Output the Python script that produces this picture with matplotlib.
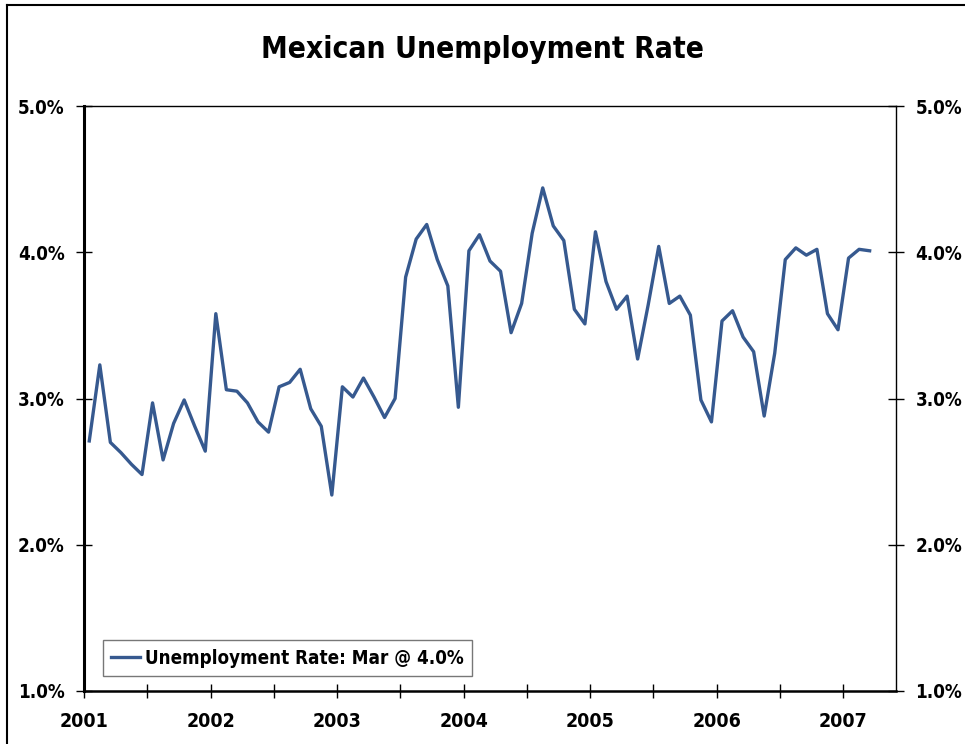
import numpy as np
import matplotlib
matplotlib.use("Agg")
import matplotlib.pyplot as plt
from matplotlib.lines import Line2D

plt.rcParams['font.family'] = ['DejaVu Sans']
plt.rcParams['font.stretch'] = 'condensed'
plt.rcParams['font.weight'] = 'bold'

# Monthly unemployment rate (%), Jan 2001 - Mar 2007
rate_2001 = [2.71, 3.23, 2.70, 2.63, 2.55, 2.48, 2.97, 2.58, 2.83, 2.99, 2.81, 2.64]
rate_2002 = [3.58, 3.06, 3.05, 2.97, 2.84, 2.77, 3.08, 3.11, 3.20, 2.93, 2.81, 2.34]
rate_2003 = [3.08, 3.01, 3.14, 3.01, 2.87, 3.00, 3.83, 4.09, 4.19, 3.95, 3.77, 2.94]
rate_2004 = [4.01, 4.12, 3.94, 3.87, 3.45, 3.65, 4.13, 4.44, 4.18, 4.08, 3.61, 3.51]
rate_2005 = [4.14, 3.80, 3.61, 3.70, 3.27, 3.64, 4.04, 3.65, 3.70, 3.57, 2.99, 2.84]
rate_2006 = [3.53, 3.60, 3.42, 3.32, 2.88, 3.31, 3.95, 4.03, 3.98, 4.02, 3.58, 3.47]
rate_2007 = [3.96, 4.02, 4.01]

years = ["2001", "2002", "2003", "2004", "2005", "2006", "2007"]
yticks = [1.0, 2.0, 3.0, 4.0, 5.0]
legend_label = "Unemployment Rate: Mar @ 4.0%"

rates = rate_2001 + rate_2002 + rate_2003 + rate_2004 + rate_2005 + rate_2006 + rate_2007
months = np.arange(len(rates)) + 0.5  # plot each month mid-period

fig = plt.figure(figsize=(9.65, 7.44), dpi=100)
ax = fig.add_axes([84 / 965, 1 - 691 / 744, (896 - 84) / 965, (691 - 106) / 744])

ax.plot(months, rates, color='#36598f', lw=2.4, label=legend_label)

ax.set_xlim(0, 77)
ax.set_ylim(1.0, 5.0)

ax.set_xticks(np.arange(0, 73, 12))
ax.set_xticklabels(years)
ax.set_xticks(np.arange(6, 73, 12), minor=True)
ax.set_yticks(yticks)
ax.set_yticklabels([f"{v:.1f}%" for v in yticks])

ax.tick_params(axis='x', which='both', direction='inout', length=10, width=1,
               labelsize=14, pad=10)
ax.tick_params(axis='y', direction='inout', length=12, width=1, labelsize=13.5,
               right=True, labelright=True, pad=8)

for side, lw in [('left', 2.2), ('bottom', 1.8), ('top', 1.0), ('right', 1.0)]:
    ax.spines[side].set_linewidth(lw)
    ax.spines[side].set_color('black')

fig.text(0.5, 1 - 50 / 744, "Mexican Unemployment Rate", ha='center', va='center',
         fontsize=21.5, fontweight='bold')

leg = ax.legend(loc='lower left', bbox_to_anchor=(19 / 812, 15 / 585), fontsize=13.5,
                frameon=True, fancybox=False, handlelength=1.5, handletextpad=0.3,
                borderpad=0.45, borderaxespad=0)
leg.get_frame().set_edgecolor('#555555')
leg.get_frame().set_linewidth(1.0)

# outer chart border (runs off the right and bottom edges)
fig.add_artist(Line2D([7 / 965, 7 / 965], [0, 1 - 5 / 744], color='black', lw=1.5))
fig.add_artist(Line2D([7 / 965, 1], [1 - 5 / 744, 1 - 5 / 744], color='black', lw=1.5))

fig.savefig("out.png", dpi=100)
